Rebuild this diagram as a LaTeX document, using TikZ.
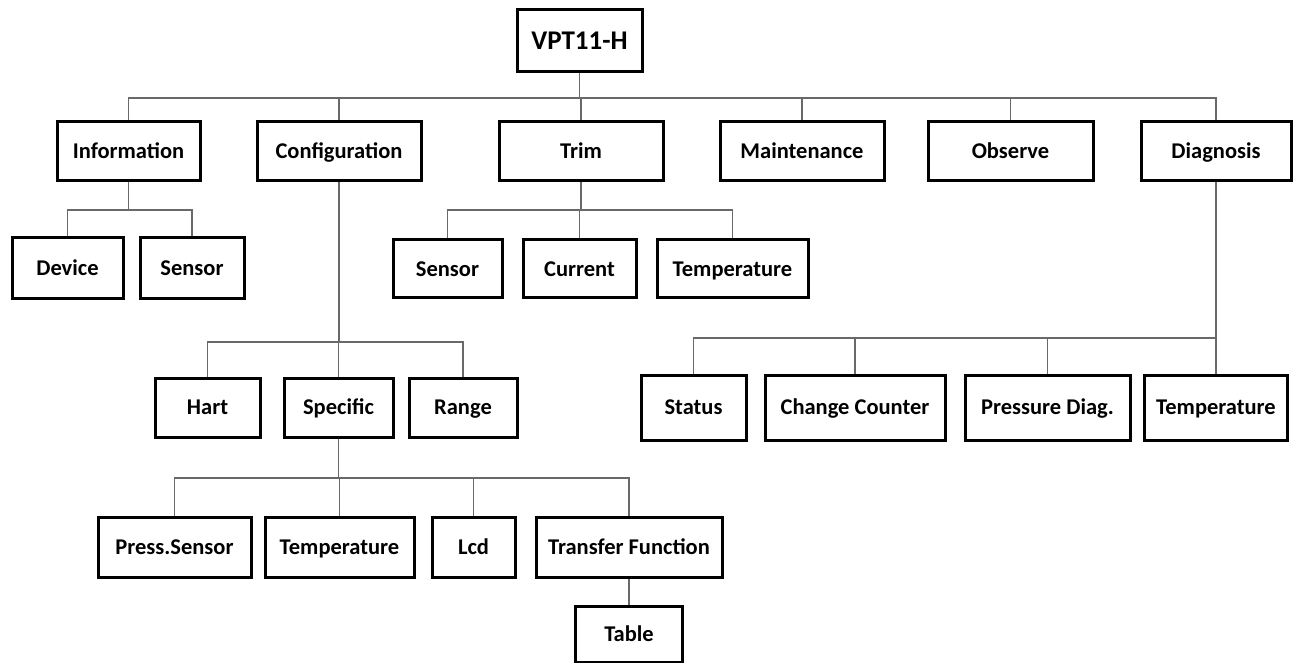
\documentclass[tikz,border=0pt]{standalone}
\usepackage{fontspec}
\setmainfont{Carlito}
\definecolor{linkgray}{RGB}{105,105,105}
\tikzset{
  box/.style={draw=black, line width=3pt, minimum height=59pt, inner sep=0pt,
    text height=14.5pt, text depth=0pt,
    font=\fontsize{22.5}{26}\selectfont\bfseries},
  link/.style={draw=linkgray, line width=1.5pt}
}
\begin{document}
\begin{tikzpicture}[x=1pt,y=1pt]
  \useasboundingbox (0,0) rectangle (1294,-663);
  % bus heights
  \coordinate (topbus) at (0,-98);
  \coordinate (infobus) at (0,-210);
  \coordinate (trimbus) at (0,-210);
  \coordinate (confbus) at (0,-342);
  \coordinate (specbus) at (0,-478);
  \coordinate (diagbus) at (0,-338);
  % root
  \node[box, minimum width=125, minimum height=62, text height=18pt,
    font=\fontsize{27}{32}\selectfont\bfseries] (root) at (579.5,-41) {VPT11-H};
  % first level
  \node[box, minimum width=143] (info) at (128.5,-151.5) {Information};
  \node[box, minimum width=164] (conf) at (339,-151.5) {Configuration};
  \node[box, minimum width=164] (trim) at (581,-151.5) {Trim};
  \node[box, minimum width=164] (maint) at (802,-151.5) {Maintenance};
  \node[box, minimum width=165] (obs) at (1010.5,-151.5) {Observe};
  \node[box, minimum width=150] (diag) at (1216,-151.5) {Diagnosis};
  % information
  \node[box, minimum width=111, minimum height=61] (dev) at (67.5,-268.5) {Device};
  \node[box, minimum width=104, minimum height=61] (isens) at (192,-268.5) {Sensor};
  % trim
  \node[box, minimum width=109, minimum height=58] (tsens) at (447.5,-269) {Sensor};
  \node[box, minimum width=113, minimum height=58] (curr) at (579.5,-269) {Current};
  \node[box, minimum width=151, minimum height=58] (ttemp) at (732.5,-269) {Temperature};
  % configuration
  \node[box, minimum width=105] (hart) at (207.5,-407.5) {Hart};
  \node[box, minimum width=109] (spec) at (338.5,-407.5) {Specific};
  \node[box, minimum width=108] (range) at (463,-407.5) {Range};
  % specific
  \node[box, minimum width=153, minimum height=60] (press) at (174.5,-547) {Press.Sensor};
  \node[box, minimum width=149, minimum height=60] (stemp) at (339.5,-547) {Temperature};
  \node[box, minimum width=83, minimum height=60] (lcd) at (473.5,-547) {Lcd};
  \node[box, minimum width=186, minimum height=60] (tf) at (629,-547) {Transfer Function};
  \node[box, minimum width=107, minimum height=56] (table) at (629,-634) {Table};
  % diagnosis
  \node[box, minimum width=105, minimum height=65] (status) at (693.5,-407.5) {Status};
  \node[box, minimum width=180, minimum height=65] (cc) at (855,-407.5) {Change Counter};
  \node[box, minimum width=165, minimum height=65] (pd) at (1047.5,-407.5) {Pressure Diag.};
  \node[box, minimum width=143, minimum height=65] (dtemp) at (1216,-407.5) {Temperature};
  % connectors
  \draw[link] (root.south) -- (root.south |- topbus) -| (info.north);
  \draw[link] (root.south) -- (root.south |- topbus) -| (conf.north);
  \draw[link] (root.south) -- (root.south |- topbus) -| (trim.north);
  \draw[link] (root.south) -- (root.south |- topbus) -| (maint.north);
  \draw[link] (root.south) -- (root.south |- topbus) -| (obs.north);
  \draw[link] (root.south) -- (root.south |- topbus) -| (diag.north);
  \draw[link] (info.south) -- (info.south |- infobus) -| (dev.north);
  \draw[link] (info.south) -- (info.south |- infobus) -| (isens.north);
  \draw[link] (trim.south) -- (trim.south |- trimbus) -| (tsens.north);
  \draw[link] (trim.south) -- (trim.south |- trimbus) -| (curr.north);
  \draw[link] (trim.south) -- (trim.south |- trimbus) -| (ttemp.north);
  \draw[link] (conf.south) -- (conf.south |- confbus) -| (hart.north);
  \draw[link] (conf.south) -- (conf.south |- confbus) -| (spec.north);
  \draw[link] (conf.south) -- (conf.south |- confbus) -| (range.north);
  \draw[link] (spec.south) -- (spec.south |- specbus) -| (press.north);
  \draw[link] (spec.south) -- (spec.south |- specbus) -| (stemp.north);
  \draw[link] (spec.south) -- (spec.south |- specbus) -| (lcd.north);
  \draw[link] (spec.south) -- (spec.south |- specbus) -| (tf.north);
  \draw[link] (tf.south) -- (table.north);
  \draw[link] (diag.south) -- (diag.south |- diagbus) -| (status.north);
  \draw[link] (diag.south) -- (diag.south |- diagbus) -| (cc.north);
  \draw[link] (diag.south) -- (diag.south |- diagbus) -| (pd.north);
  \draw[link] (diag.south) -- (diag.south |- diagbus) -| (dtemp.north);
\end{tikzpicture}
\end{document}
